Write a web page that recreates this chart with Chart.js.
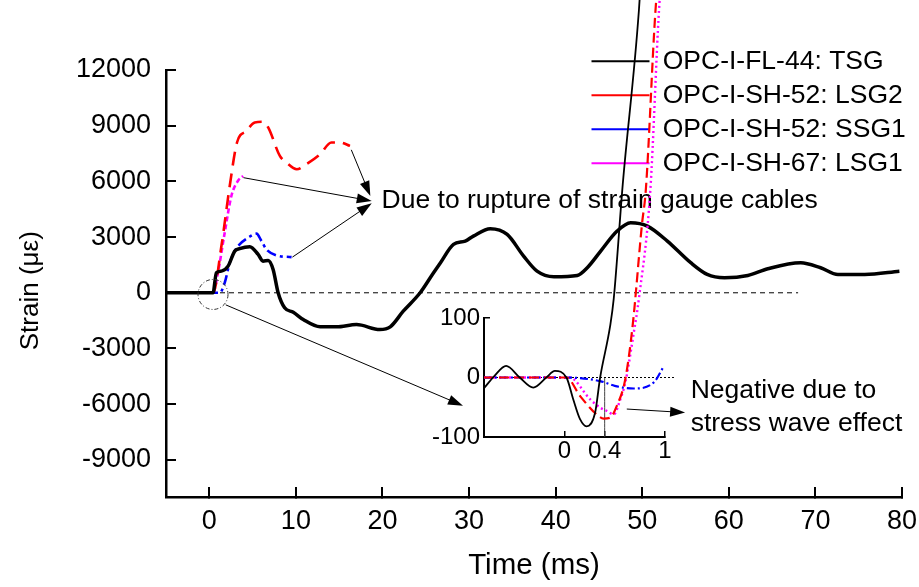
<!DOCTYPE html>
<html>
<head>
<meta charset="utf-8">
<script src="https://cdn.jsdelivr.net/npm/chart.js@4.4.0/dist/chart.umd.min.js"></script>
<style>
  html, body { margin:0; padding:0; background:#fff; }
  #wrap { position:relative; width:919px; height:587px; }
  #wrap canvas { position:absolute; left:0; top:0; }
</style>
</head>
<body>
<div id="wrap">
  <canvas id="mainChart" width="919" height="587"></canvas>
  <canvas id="insetChart" width="919" height="587"></canvas>
</div>
<script>
// ── series (main plot, time in ms / strain in µε) ─────────────
const seriesNames = ['OPC-I-FL-44: TSG', 'OPC-I-SH-52: LSG2', 'OPC-I-SH-52: SSG1', 'OPC-I-SH-67: LSG1'];

const tsgTime   = [-5, 0, 0.43, 0.82, 1.4, 2.17, 2.94, 3.5, 4.68, 5.64, 6.2, 6.8, 7.37, 7.95, 8.7, 9.7, 10.85, 12.8, 14.7, 17, 19.7, 20.9, 22.4, 24.35, 25.9, 26.7, 28.2, 29.56, 30.5, 32.45, 34.4, 36.3, 37.85, 39.8, 42.5, 43.65, 45.2, 47.1, 48.66, 50.6, 52.9, 55.6, 57.5, 59.5, 62.2, 64.5, 68.3, 70.6, 72.6, 75.7, 79.7];
const tsgStrain = [0, 0, 0, 1079, 1166, 1435, 2245, 2375, 2480, 2066, 1705, 1743, 1257, 0, -810, -1047, -1441, -1835, -1835, -1711, -1980, -1835, -993, 0, 1079, 1619, 2607, 2785, 3054, 3454, 3146, 1975, 1166, 863, 934, 1349, 2245, 3324, 3777, 3594, 2785, 1619, 988, 809, 934, 1295, 1619, 1349, 988, 988, 1166];

const lsg2Time   = [-5, 0, 0.43, 1.4, 2.36, 3.2, 4.3, 5.25, 6.2, 6.8, 8.15, 8.9, 10.1, 11.2, 12.8, 14.1, 15.1, 16.25];
const lsg2Strain = [0, 0, 0, 2517, 5753, 8095, 8723, 9174, 9209, 8905, 7372, 7016, 6654, 6924, 7463, 8095, 8095, 7912];

const ssg1Time   = [-5, 0, 0.8, 1.2, 1.78, 2.36, 2.94, 3.5, 4.48, 5.45, 6.03, 6.6, 7.77, 9.5];
const ssg1Strain = [0, 0, 0, 0, 540, 1619, 2245, 2607, 2968, 3184, 2785, 2337, 2013, 1921];

const lsg1Time   = [-5, 0, 0.43, 1.0, 1.78, 2.55, 3.3, 3.9];
const lsg1Strain = [0, 0, 0, 1079, 3238, 5213, 6023, 6293];

const zeroTime = [-5, 68];
const xTicks = [0, 10, 20, 30, 40, 50, 60, 70, 80];
const yTicks = [-9000, -6000, -3000, 0, 3000, 6000, 9000, 12000];

// ── inset (zoom around t = 0) ─────────────────────────────────
const inTsgTime   = [-0.8, -0.7, -0.58, -0.445, -0.31, -0.18, -0.095, 0.02, 0.088, 0.155, 0.22, 0.305, 0.355, 0.455, 0.49, 0.58, 0.74, 0.77];
const inTsgStrain = [-18, 2, 19.5, 0, -17, 0, 11, 0, -37, -70, -82, -59, 0, 87, 132, 325, 616, 700];

const inLsg2Time   = [-0.8, 0.02, 0.155, 0.32, 0.39, 0.455, 0.52, 0.605, 0.68, 0.77, 0.81, 0.905, 0.95];
const inLsg2Strain = [0, 0, -31, -62, -69, -67.5, -48, -3, 90, 256, 317, 616, 700];

const inSsg1Time   = [-0.8, 0.0, 0.355, 0.5, 0.69, 0.89, 0.99];
const inSsg1Strain = [0, 0, -6, -14, -18.5, -8, 19.5];

const inLsg1Time   = [-0.8, 0.05, 0.255, 0.355, 0.42, 0.49, 0.555, 0.605, 0.69, 0.74, 0.855, 0.94, 0.98];
const inLsg1Strain = [0, 0, -36.6, -50.6, -56, -62, -37, -8.5, 76, 132, 317, 616, 700];

const inZeroTime = [-0.8, 1.1];
const inMarkTime = [0.4, 0.4];
const inMarkStrain = [-100, 0];
const inXTicks = [0, 0.4, 1];
const inYTicks = [-100, 0, 100];

// ── annotation anchors (data coords) ──────────────────────────
const ruptureText = 'Due to rupture of strain gauge cables';
const ruptureTails = [[16.4, 7700], [3.95, 6200], [9.6, 1921]];
const ruptureHeads = [[18.6, 5213], [18.76, 4943], [18.76, 4819]];
const ruptureAt = [19.9, 4943];
const zoomCircleAt = [0.43, -90];
const zoomArrow = [[1.9, -650], [29.3, -6082]];

const negText = ['Negative due to', 'stress wave effect'];
const negAt = [[1.255, -22], [1.255, -77]];
const negArrow = [[0.62, -53], [1.2, -59]];

const FONT = "'Liberation Sans', Arial, sans-serif";
Chart.defaults.font.family = FONT;
Chart.defaults.color = '#000';

const pts = (xs, ys) => xs.map((x, i) => ({x, y: ys[i]}));
const setTicks = vals => s => { s.ticks = vals.map(v => ({value: v})); };

function arrow(ctx, x1, y1, x2, y2) {
  const a = Math.atan2(y2 - y1, x2 - x1), L = 15, W = 5;
  ctx.beginPath(); ctx.moveTo(x1, y1); ctx.lineTo(x2 - L * 0.8 * Math.cos(a), y2 - L * 0.8 * Math.sin(a)); ctx.stroke();
  ctx.beginPath();
  ctx.moveTo(x2, y2);
  ctx.lineTo(x2 - L * Math.cos(a) + W * Math.sin(a), y2 - L * Math.sin(a) - W * Math.cos(a));
  ctx.lineTo(x2 - L * Math.cos(a) - W * Math.sin(a), y2 - L * Math.sin(a) + W * Math.cos(a));
  ctx.closePath(); ctx.fill();
}

// legend sits in the top right corner, partly above the plot area
const legendMover = {
  id: 'legendMover',
  afterLayout(chart) {
    const lg = chart.legend;
    lg.left = 584; lg.right = 919; lg.top = 40.5; lg.bottom = 220;
    lg.width = lg.right - lg.left; lg.height = lg.bottom - lg.top;
  }
};

const mainNotes = {
  id: 'mainNotes',
  afterDatasetsDraw(chart) {
    const {ctx, scales: {x, y}} = chart;
    const px = p => [x.getPixelForValue(p[0]), y.getPixelForValue(p[1])];
    ctx.save();
    ctx.strokeStyle = '#000'; ctx.fillStyle = '#000'; ctx.lineWidth = 1;
    ruptureTails.forEach((t, i) => { const a = px(t), b = px(ruptureHeads[i]); arrow(ctx, a[0], a[1], b[0], b[1]); });
    const za = px(zoomArrow[0]), zb = px(zoomArrow[1]);
    arrow(ctx, za[0], za[1], zb[0], zb[1]);
    const c = px(zoomCircleAt);
    ctx.setLineDash([4, 2, 1, 2]); ctx.strokeStyle = '#333';
    ctx.beginPath(); ctx.arc(c[0], c[1], 15, 0, Math.PI * 2); ctx.stroke();
    ctx.setLineDash([]);
    const t = px(ruptureAt);
    ctx.font = '26.5px ' + FONT; ctx.textBaseline = 'middle'; ctx.textAlign = 'left';
    ctx.fillText(ruptureText, t[0], t[1]);
    ctx.restore();
  }
};

const insetNotes = {
  id: 'insetNotes',
  afterDatasetsDraw(chart) {
    const {ctx, scales: {x, y}} = chart;
    const px = p => [x.getPixelForValue(p[0]), y.getPixelForValue(p[1])];
    ctx.save();
    ctx.strokeStyle = '#000'; ctx.fillStyle = '#000'; ctx.lineWidth = 1;
    const a = px(negArrow[0]), b = px(negArrow[1]);
    arrow(ctx, a[0], a[1], b[0], b[1]);
    ctx.font = '26.5px ' + FONT; ctx.textBaseline = 'middle'; ctx.textAlign = 'left';
    negText.forEach((s, i) => { const p = px(negAt[i]); ctx.fillText(s, p[0], p[1]); });
    ctx.restore();
  }
};

const line = (label, xs, ys, color, width, dash, extra) => Object.assign({
  label, data: pts(xs, ys), borderColor: color, backgroundColor: color,
  borderWidth: width, borderDash: dash, pointRadius: 0, cubicInterpolationMode: 'monotone', fill: false
}, extra || {});

// ── main plot ─────────────────────────────────────────────────
new Chart(document.getElementById('mainChart'), {
  type: 'line',
  data: {
    datasets: [
      line(seriesNames[0], tsgTime, tsgStrain, '#000', 3.5, []),
      line(seriesNames[1], lsg2Time, lsg2Strain, '#ff0000', 2.6, [14, 8]),
      line(seriesNames[2], ssg1Time, ssg1Strain, '#0000ff', 2.6, [10, 4, 3, 4]),
      line(seriesNames[3], lsg1Time, lsg1Strain, '#ff00ff', 2.6, [5, 3]),
      line('zero', zeroTime, [0, 0], '#000', 1, [5, 4])
    ]
  },
  options: {
    responsive: false, animation: false, events: [],
    layout: { padding: { left: 0, right: 0, top: 70, bottom: 0 } },
    plugins: {
      tooltip: { enabled: false },
      legend: {
        position: 'chartArea', align: 'start',
        labels: {
          usePointStyle: true, pointStyle: 'line', pointStyleWidth: 58, padding: 7.5,
          color: '#000', font: { size: 26.5 },
          generateLabels: chart => Chart.defaults.plugins.legend.labels.generateLabels(chart)
            .filter(it => it.datasetIndex < 4)
            .map(it => Object.assign(it, { lineWidth: 2 }))
        }
      }
    },
    scales: {
      x: {
        type: 'linear', min: -5, max: 80,
        afterBuildTicks: setTicks(xTicks),
        afterFit: s => { s.height = 90; s.paddingLeft = 0; s.paddingRight = 17; },
        border: { color: '#000', width: 2.5 },
        grid: { drawOnChartArea: false, tickLength: -10, lineWidth: 2, color: '#000' },
        ticks: { padding: 18, font: { size: 27 }, color: '#000', maxRotation: 0, autoSkip: false, callback: v => String(v) },
        title: { display: true, text: 'Time (ms)', font: { size: 29.5 }, color: '#000', padding: { top: 0, bottom: 3 } }
      },
      y: {
        type: 'linear', min: -11000, max: 12000,
        afterBuildTicks: setTicks(yTicks),
        afterFit: s => { s.width = 166; },
        border: { color: '#000', width: 2.5 },
        grid: { drawOnChartArea: false, tickLength: -10, lineWidth: 2, color: '#000' },
        ticks: { padding: 25, font: { size: 27 }, color: '#000', autoSkip: false, callback: v => String(v) },
        title: { display: true, text: 'Strain (με)  ', font: { size: 26 }, color: '#000', padding: { top: 15, bottom: 0 } }
      }
    }
  },
  plugins: [legendMover, mainNotes]
});

// ── inset plot ────────────────────────────────────────────────
new Chart(document.getElementById('insetChart'), {
  type: 'line',
  data: {
    datasets: [
      line('TSG', inTsgTime, inTsgStrain, '#000', 1.8, [], { clip: false }),
      line('LSG2', inLsg2Time, inLsg2Strain, '#ff0000', 2.2, [10, 5], { clip: false }),
      line('SSG1', inSsg1Time, inSsg1Strain, '#0000ff', 2.2, [8, 3, 2, 3], { clip: false }),
      line('LSG1', inLsg1Time, inLsg1Strain, '#ff00ff', 2.4, [2, 3], { clip: false }),
      line('zero', inZeroTime, [0, 0], '#000', 1, [2, 2], { clip: false }),
      line('mark', inMarkTime, inMarkStrain, '#444', 1, [])
    ]
  },
  options: {
    responsive: false, animation: false, events: [],
    layout: { padding: { left: 424, right: 254, top: 318, bottom: 110 } },
    plugins: { legend: { display: false }, tooltip: { enabled: false } },
    scales: {
      x: {
        type: 'linear', min: -0.8, max: 1,
        afterBuildTicks: setTicks(inXTicks),
        afterFit: s => { s.height = 40; },
        border: { color: '#000', width: 2 },
        grid: { drawOnChartArea: false, tickLength: -6, lineWidth: 1.5, color: '#000' },
        ticks: { padding: 6, font: { size: 24 }, color: '#000', maxRotation: 0, autoSkip: false, callback: v => String(v) }
      },
      y: {
        type: 'linear', min: -100, max: 100,
        afterBuildTicks: setTicks(inYTicks),
        afterFit: s => { s.width = 60; },
        border: { color: '#000', width: 2 },
        grid: { drawOnChartArea: false, tickLength: -6, lineWidth: 1.5, color: '#000' },
        ticks: { padding: 10, font: { size: 24 }, color: '#000', autoSkip: false, callback: v => String(v) }
      }
    }
  },
  plugins: [insetNotes]
});
</script>
</body>
</html>
